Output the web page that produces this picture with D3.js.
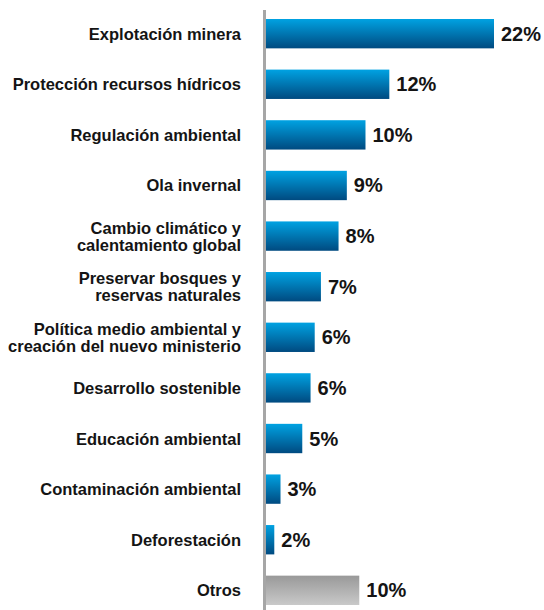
<!DOCTYPE html>
<html>
<head>
<meta charset="utf-8">
<script src="https://cdn.jsdelivr.net/npm/d3@7"></script>
<style>
  html, body { margin: 0; padding: 0; background: #fff; }
  svg { display: block; }
</style>
</head>
<body>
<div id="chart"></div>
<script>
const WIDTH  = 544;
const HEIGHT = 610;

// categories, top to bottom (each entry = lines of the label)
const categories = [
  ['Explotación minera'],
  ['Protección recursos hídricos'],
  ['Regulación ambiental'],
  ['Ola invernal'],
  ['Cambio climático y', 'calentamiento global'],
  ['Preservar bosques y', 'reservas naturales'],
  ['Política medio ambiental y', 'creación del nuevo ministerio'],
  ['Desarrollo sostenible'],
  ['Educación ambiental'],
  ['Contaminación ambiental'],
  ['Deforestación'],
  ['Otros']
];
// bar lengths (percent)
const values = [22.0, 11.9, 9.6, 7.8, 7.0, 5.3, 4.7, 4.3, 3.5, 1.4, 0.8, 9.0];
// printed value labels
const valueLabels = ['22%', '12%', '10%', '9%', '8%', '7%', '6%', '6%', '5%', '3%', '2%', '10%'];
// which bars are the grey "other" bar
const isOther = [false, false, false, false, false, false, false, false, false, false, false, true];

const AXIS_X   = 266;
const FONT     = '"Liberation Sans", Arial, sans-serif';
const COLORS = {
  text:  '#141414',
  axis:  '#a6a6a6',
  blue:  ['#00a2e2', '#004a80'],
  grey:  ['#999999', '#c9c9c9']
};

var data = values.map((v, i) => ({
  key: i,
  lines: categories[i],
  value: v,
  label: valueLabels[i],
  other: isOther[i]
}));

var svg = d3.select('#chart').append('svg')
  .attr('width', WIDTH)
  .attr('height', HEIGHT);

var defs = svg.append('defs');
function gradient(id, stops) {
  let g = defs.append('linearGradient')
    .attr('id', id)
    .attr('x1', 0).attr('y1', 0)
    .attr('x2', 0).attr('y2', 1);
  g.append('stop').attr('offset', '0%').attr('stop-color', stops[0]);
  g.append('stop').attr('offset', '100%').attr('stop-color', stops[1]);
}
gradient('blueGrad', COLORS.blue);
gradient('greyGrad', COLORS.grey);

var xScale = d3.scaleLinear()
  .domain([0, 22])
  .range([AXIS_X, AXIS_X + 228]);

var yScale = d3.scaleBand()
  .domain(data.map(d => d.key))
  .range([19, 605])
  .paddingInner(0.42)
  .paddingOuter(0);

// Bars
svg.selectAll('.bar')
    .data(data)
  .enter().append('rect')
    .attr('class', 'bar')
    .attr('x', xScale(0))
    .attr('y', d => yScale(d.key))
    .attr('width', d => xScale(d.value) - xScale(0))
    .attr('height', yScale.bandwidth())
    .style('fill', d => d.other ? 'url(#greyGrad)' : 'url(#blueGrad)');

// Vertical axis line
svg.append('line')
  .attr('x1', AXIS_X - 1.5)
  .attr('x2', AXIS_X - 1.5)
  .attr('y1', 10)
  .attr('y2', HEIGHT)
  .style('stroke', COLORS.axis)
  .style('stroke-width', 3);

// Category labels
const LINE_H = 17;
svg.selectAll('.cat')
    .data(data)
  .enter().append('text')
    .attr('class', 'cat')
    .attr('text-anchor', 'end')
    .attr('font-family', FONT)
    .attr('font-weight', 'bold')
    .attr('font-size', 16.5)
    .style('fill', COLORS.text)
    .each(function(d) {
      let cy = yScale(d.key) + yScale.bandwidth() / 2;
      let first = cy + 6 - (d.lines.length - 1) * LINE_H / 2;
      d3.select(this).selectAll('tspan')
          .data(d.lines)
        .enter().append('tspan')
          .attr('x', AXIS_X - 25)
          .attr('y', (l, j) => first + j * LINE_H)
          .text(l => l);
    });

// Value labels
svg.selectAll('.val')
    .data(data)
  .enter().append('text')
    .attr('class', 'val')
    .attr('font-family', FONT)
    .attr('font-weight', 'bold')
    .attr('font-size', 20)
    .style('fill', COLORS.text)
    .attr('x', d => xScale(d.value) + 7)
    .attr('y', d => yScale(d.key) + yScale.bandwidth() / 2 + 7)
    .text(d => d.label);
</script>
</body>
</html>
